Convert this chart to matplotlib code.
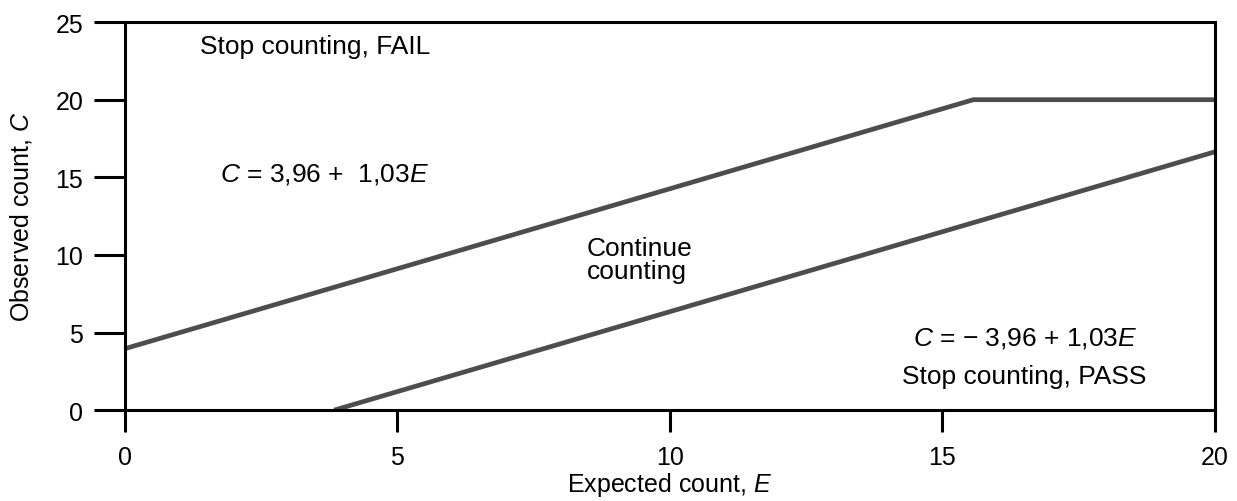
import matplotlib
matplotlib.use("Agg")
import matplotlib.pyplot as plt

# decision lines of the sequential counting test
fail_E = [0.0, 15.57, 20.0]
fail_C = [3.96, 20.0, 20.0]
pass_E = [3.84, 20.0]
pass_C = [0.0, 16.64]

x_ticks = [0, 5, 10, 15, 20]
y_ticks = [0, 5, 10, 15, 20, 25]

plt.rcParams['font.family'] = ['Liberation Sans', 'DejaVu Sans']
plt.rcParams['mathtext.fontset'] = 'custom'
plt.rcParams['mathtext.it'] = 'Liberation Sans:italic'
plt.rcParams['mathtext.rm'] = 'Liberation Sans'

fig = plt.figure(figsize=(12.37, 5.02), dpi=100)
ax = fig.add_axes([0.101, 0.181, 0.881, 0.773])

line_col = '#4d4d4d'
ax.plot(fail_E, fail_C, color=line_col, lw=3.4, solid_capstyle='butt')
ax.plot(pass_E, pass_C, color=line_col, lw=3.4, solid_capstyle='butt')

ax.set_xlim(0, 20)
ax.set_ylim(0, 25)
ax.set_xticks(x_ticks)
ax.set_yticks(y_ticks)

for s in ax.spines.values():
    s.set_linewidth(2.2)
ax.tick_params(axis='y', direction='out', length=22, width=2.2, pad=8, labelsize=18)
ax.tick_params(axis='x', direction='out', length=16, width=2.2, pad=9, labelsize=18)

ax.set_xlabel(r"Expected count, $E$", fontsize=18, va='center')
ax.xaxis.set_label_coords(0.5, -0.19)
ax.set_ylabel(r"Observed count, $C$", fontsize=18, va='center')
ax.yaxis.set_label_coords(-0.095, 0.5)

fs = 19
ax.text(1.38, 23.45, "Stop counting, FAIL", fontsize=fs, ha='left', va='center')
ax.text(1.74, 15.25, r"$C$ = 3,96 +  1,03$E$", fontsize=fs, ha='left', va='center')
ax.text(8.48, 9.7, "Continue\ncounting", fontsize=fs, ha='left', va='center', linespacing=0.95)
ax.text(14.46, 4.7, "$C$ = \u2212 3,96 + 1,03$E$", fontsize=fs, ha='left', va='center')
ax.text(14.26, 2.2, "Stop counting, PASS", fontsize=fs, ha='left', va='center')

fig.savefig("out.png", dpi=100)
